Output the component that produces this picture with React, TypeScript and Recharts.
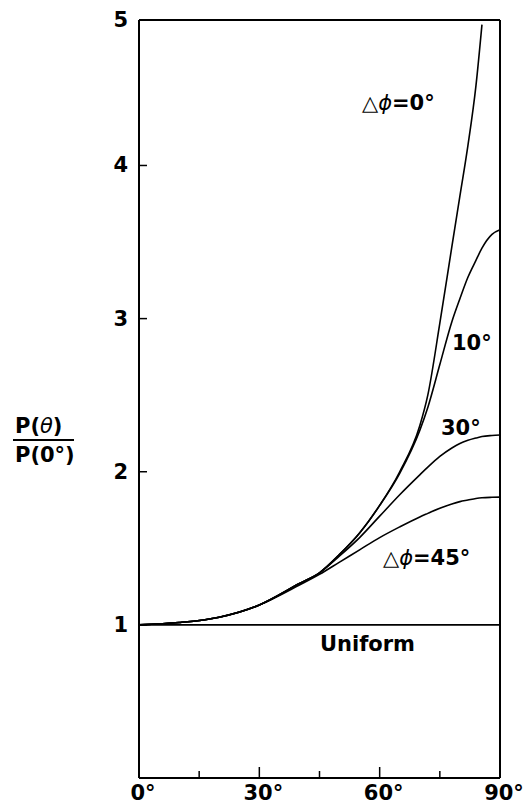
import React from "react";
import { LineChart, Line, XAxis, YAxis, ReferenceLine } from "recharts";

// polar angle θ (degrees)
const THETA = [0, 10, 20, 30, 40, 45, 50, 55, 60, 65, 70, 72, 75, 78, 80, 82, 84, 85.5, 88, 90];

// P(θ)/P(0°) for each Δφ
const DPHI_0 = [1.0, 1.015, 1.05, 1.13, 1.27, 1.34, 1.46, 1.6, 1.78, 2.0, 2.3, 2.5, 2.97, 3.47, 3.8, 4.13, 4.52, 4.92, null, null];
const DPHI_10 = [1.0, 1.015, 1.05, 1.13, 1.27, 1.34, 1.46, 1.6, 1.78, 1.99, 2.27, 2.42, 2.7, 2.98, 3.13, 3.27, 3.38, 3.46, 3.55, 3.58];
const DPHI_30 = [1.0, 1.015, 1.05, 1.13, 1.27, 1.34, 1.45, 1.57, 1.71, 1.85, 1.98, 2.03, 2.1, 2.155, 2.185, 2.205, 2.22, 2.23, 2.237, 2.24];
const DPHI_45 = [1.0, 1.015, 1.05, 1.13, 1.26, 1.33, 1.41, 1.49, 1.57, 1.64, 1.705, 1.728, 1.762, 1.79, 1.805, 1.815, 1.825, 1.83, 1.833, 1.834];
const UNIFORM = 1;

const X_TICKS = [0, 30, 60, 90];
const X_MINOR = [15, 45, 75];
const Y_TICKS = [1, 2, 3, 4, 4.95];
const Y_RIGHT = [1, 2, 3, 4];

const data = THETA.map((t, i) => ({
  theta: t,
  d0: DPHI_0[i],
  d10: DPHI_10[i],
  d30: DPHI_30[i],
  d45: DPHI_45[i],
}));

const FONT = "'DejaVu Sans', sans-serif";
const axisStroke = { stroke: "#000", strokeWidth: 2 };

// ticks point inward, drawn next to their labels
const XTick = ({ x, y, payload }: any) => (
  <g>
    <line x1={x} x2={x} y1={y} y2={y - 11} stroke="#000" strokeWidth={1.5} />
    <text x={x + 4} y={y + 22} textAnchor="middle" fontFamily={FONT} fontWeight="bold" fontSize={21} fill="#000">
      {payload.value}°
    </text>
  </g>
);

const XMinorTick = ({ x, y }: any) => (
  <line x1={x} x2={x} y1={y - 1} y2={y - 8} stroke="#000" strokeWidth={1.5} />
);

const YTick = ({ x, y, payload }: any) => (
  <g>
    {payload.value < 4.9 && <line x1={x} x2={x + 8} y1={y} y2={y} stroke="#000" strokeWidth={1.5} />}
    <text x={x - 11} y={y + 7} textAnchor="end" fontFamily={FONT} fontWeight="bold" fontSize={21} fill="#000">
      {Math.round(payload.value)}
    </text>
  </g>
);

const YRightTick = ({ x, y }: any) => (
  <line x1={x} x2={x - 8} y1={y} y2={y} stroke="#000" strokeWidth={1.5} />
);

export default function App() {
  return (
    <div style={{ position: "absolute", left: 0, top: 0, width: 527, height: 809, background: "#fff" }}>
      <LineChart width={527} height={809} data={data} margin={{ top: 19, right: 26, bottom: 29, left: 138 }}>
        <XAxis
          xAxisId="b"
          dataKey="theta"
          type="number"
          domain={[0, 90]}
          ticks={X_TICKS}
          height={1}
          tickSize={0}
          tickMargin={0}
          axisLine={axisStroke}
          tickLine={false}
          tick={<XTick />}
        />
        <XAxis
          xAxisId="minor"
          dataKey="theta"
          type="number"
          domain={[0, 90]}
          ticks={X_MINOR}
          height={1}
          tickSize={0}
          tickMargin={0}
          axisLine={false}
          tickLine={false}
          tick={<XMinorTick />}
        />
        <XAxis
          xAxisId="t"
          orientation="top"
          dataKey="theta"
          type="number"
          domain={[0, 90]}
          height={1}
          axisLine={axisStroke}
          tickLine={false}
          tick={false}
        />
        <YAxis
          yAxisId="l"
          type="number"
          domain={[0, 4.95]}
          ticks={Y_TICKS}
          width={1}
          tickSize={0}
          tickMargin={0}
          axisLine={axisStroke}
          tickLine={false}
          tick={<YTick />}
        />
        <YAxis
          yAxisId="r"
          orientation="right"
          type="number"
          domain={[0, 4.95]}
          ticks={Y_RIGHT}
          width={1}
          tickSize={0}
          tickMargin={0}
          axisLine={axisStroke}
          tickLine={false}
          tick={<YRightTick />}
        />
        <ReferenceLine xAxisId="b" yAxisId="l" y={UNIFORM} stroke="#000" strokeWidth={1.6} />
        <Line xAxisId="b" yAxisId="l" type="monotone" dataKey="d0" stroke="#000" strokeWidth={1.6} dot={false} isAnimationActive={false} />
        <Line xAxisId="b" yAxisId="l" type="monotone" dataKey="d10" stroke="#000" strokeWidth={1.6} dot={false} isAnimationActive={false} />
        <Line xAxisId="b" yAxisId="l" type="monotone" dataKey="d30" stroke="#000" strokeWidth={1.6} dot={false} isAnimationActive={false} />
        <Line xAxisId="b" yAxisId="l" type="monotone" dataKey="d45" stroke="#000" strokeWidth={1.6} dot={false} isAnimationActive={false} />
      </LineChart>

      {/* annotations */}
      <svg width={527} height={809} style={{ position: "absolute", left: 0, top: 0, pointerEvents: "none" }}>
        <g fontFamily={FONT} fontWeight="bold" fontSize={21} fill="#000">
          <text x={362} y={110}>
            △<tspan fontStyle="italic" fontWeight="normal">ϕ</tspan>=0°
          </text>
          <text x={452} y={350}>10°</text>
          <text x={441} y={435}>30°</text>
          <text x={383} y={565}>
            △<tspan fontStyle="italic" fontWeight="normal">ϕ</tspan>=45°
          </text>
          <text x={320} y={651}>Uniform</text>
          <text x={15} y={433}>
            P(<tspan fontStyle="italic" fontWeight="normal">θ</tspan>)
          </text>
          <text x={15} y={462}>P(0°)</text>
        </g>
        <line x1={13} x2={74} y1={440} y2={440} stroke="#000" strokeWidth={2} />
      </svg>
    </div>
  );
}
